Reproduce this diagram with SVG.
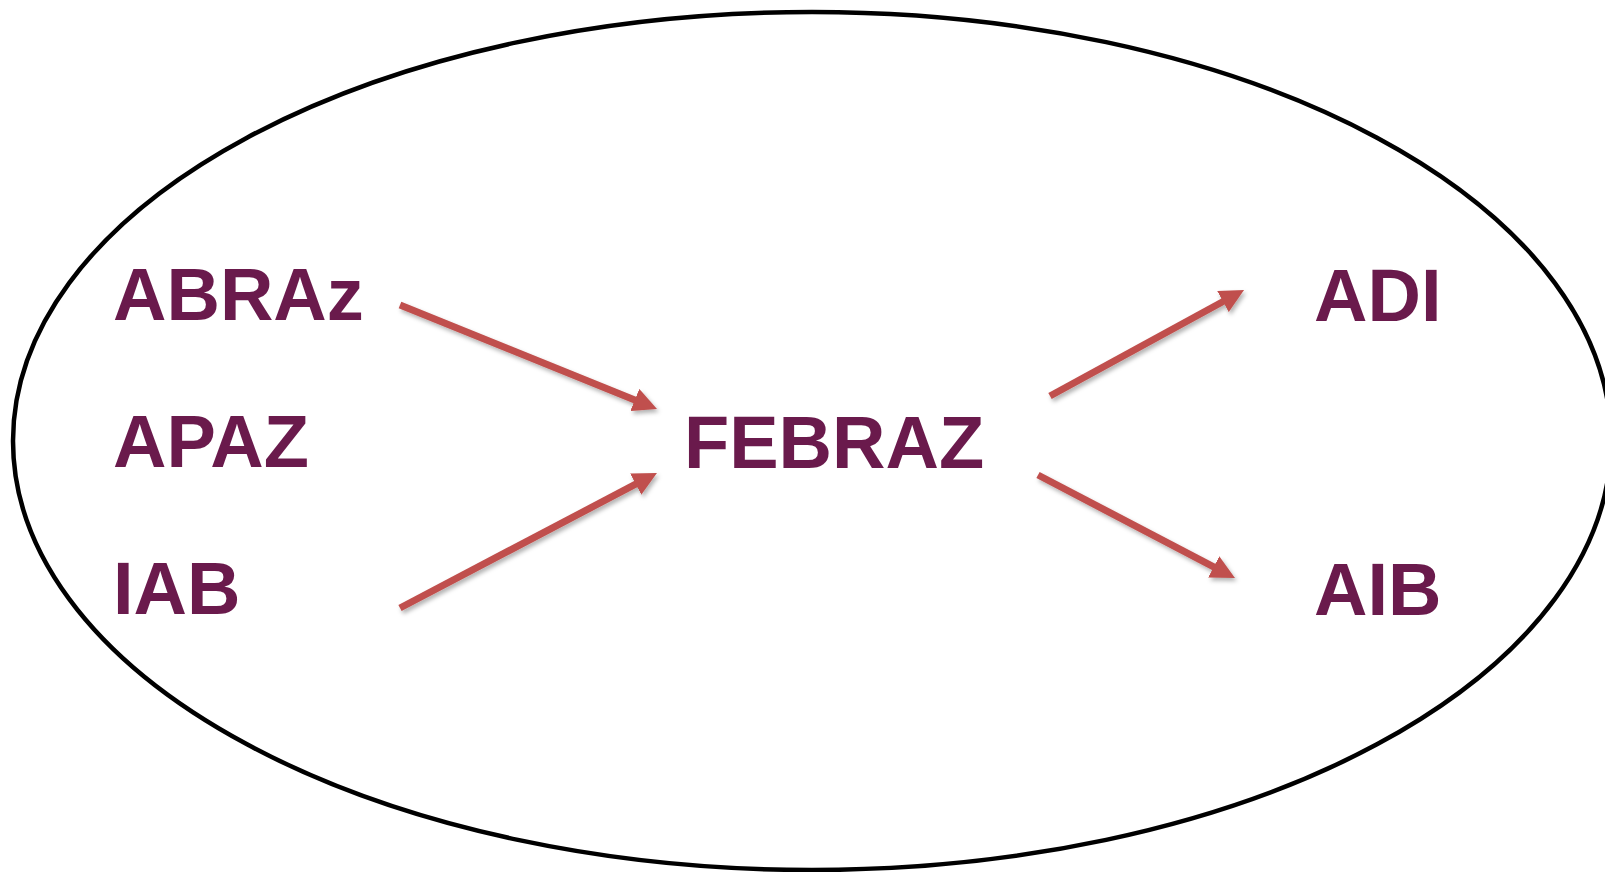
<svg xmlns="http://www.w3.org/2000/svg" width="1605" height="872" viewBox="0 0 1605 872">
<style>
.lbl{font-family:"Liberation Sans",Arial,sans-serif;font-weight:bold;font-size:74px;fill:#6A1A4C}
.conn{stroke:#C0504D;stroke-width:7;fill:none;marker-end:url(#head)}
</style>
<defs>
<marker id="head" viewBox="0 0 24 24" refX="8" refY="12" markerWidth="24" markerHeight="24" markerUnits="userSpaceOnUse" orient="auto">
<path d="M0,0 L24,12 L0,24 Z" fill="#C0504D"/>
</marker>
<filter id="sh" x="-10%" y="-10%" width="130%" height="140%">
<feDropShadow dx="2" dy="3" stdDeviation="2" flood-color="#000" flood-opacity="0.3"/>
</filter>
</defs>
<rect width="1605" height="872" fill="#fff"/>
<ellipse id="boundary" cx="812" cy="441" rx="799" ry="429" fill="none" stroke="#000" stroke-width="4.5"/>
<g id="ABRAz"><text class="lbl" x="113" y="320">ABRAz</text></g>
<g id="APAZ"><text class="lbl" x="113" y="467">APAZ</text></g>
<g id="IAB"><text class="lbl" x="113" y="614">IAB</text></g>
<g id="FEBRAZ"><text class="lbl" x="684" y="468">FEBRAZ</text></g>
<g id="ADI"><text class="lbl" x="1314" y="321">ADI</text></g>
<g id="AIB"><text class="lbl" x="1314" y="615">AIB</text></g>
<g id="connectors" filter="url(#sh)">
<line class="conn" x1="400" y1="305" x2="642.2" y2="403"/>
<line class="conn" x1="400" y1="608" x2="642.8" y2="480.4"/>
<line class="conn" x1="1050" y1="396" x2="1230" y2="297.7"/>
<line class="conn" x1="1038" y1="475" x2="1220.8" y2="570.6"/>
</g>
</svg>
